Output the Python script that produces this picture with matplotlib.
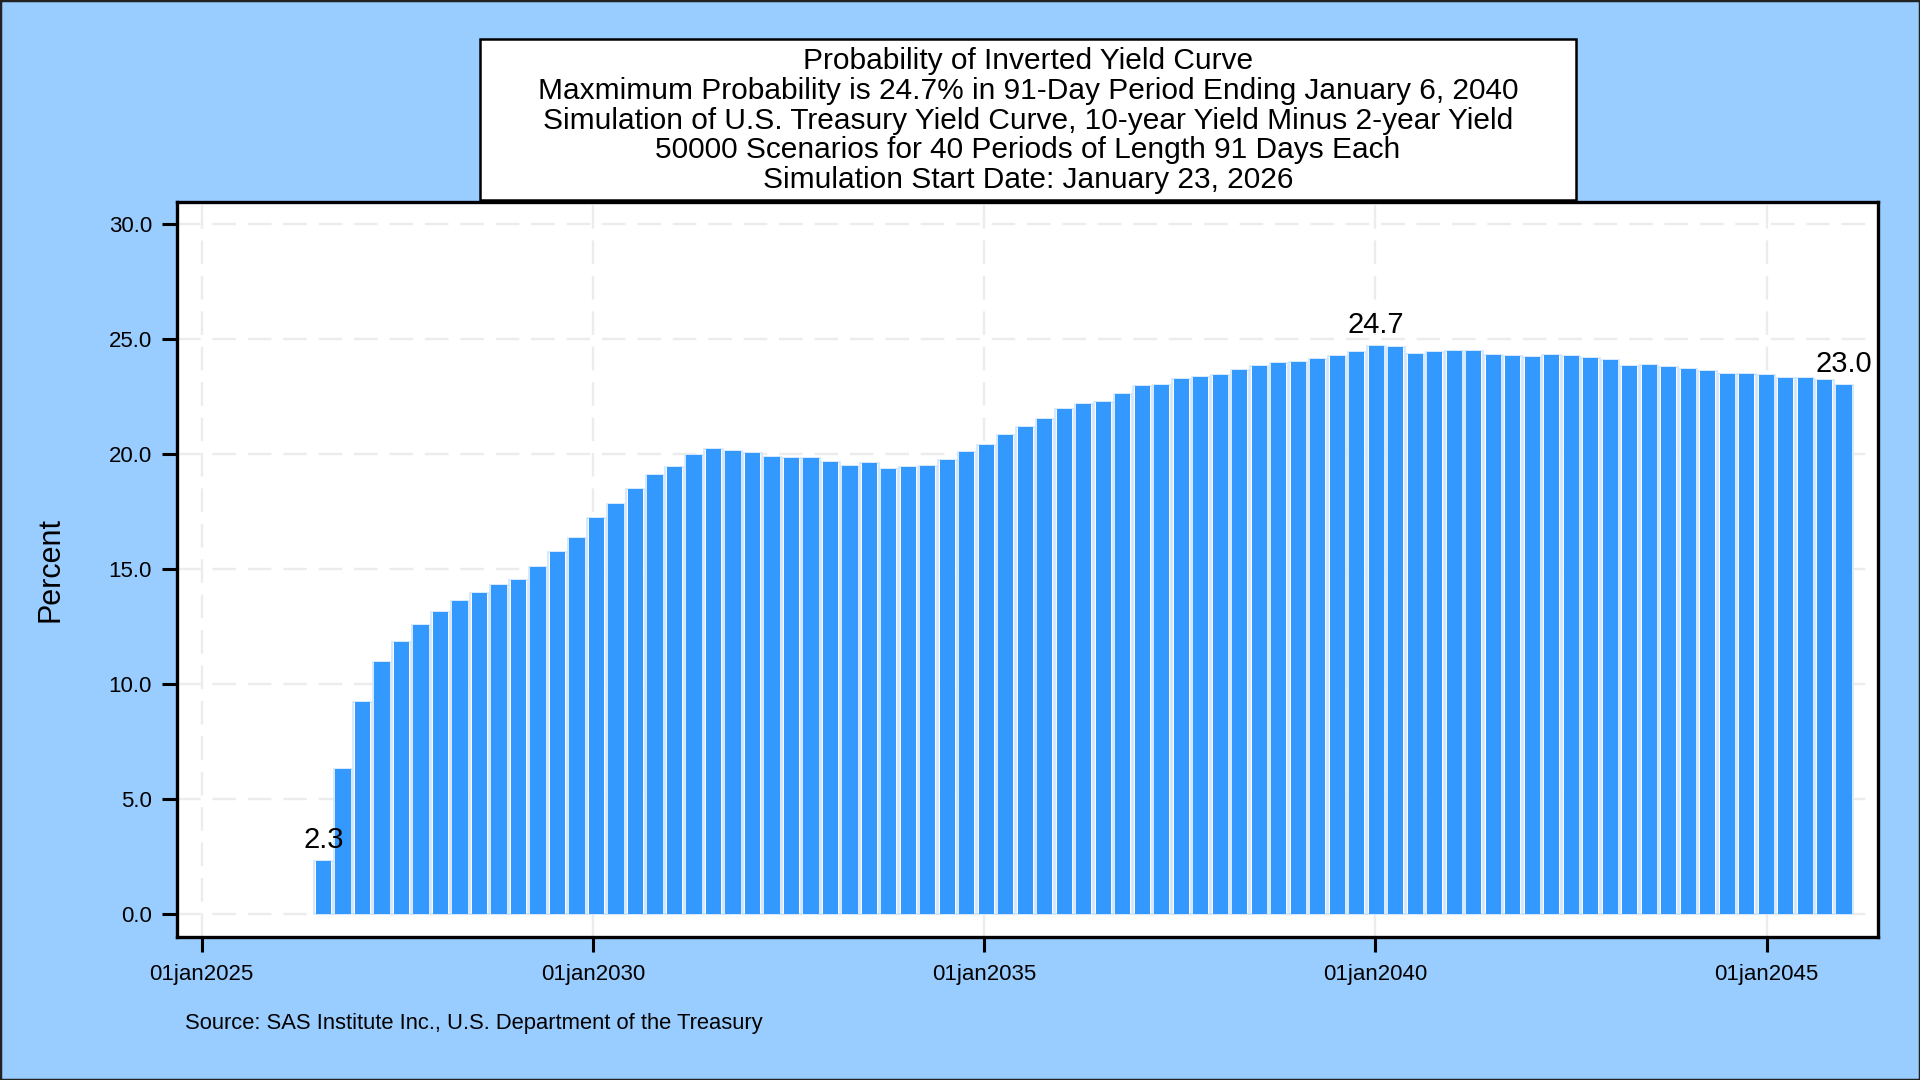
# Probability of inverted yield curve - bar chart recreation
import matplotlib
matplotlib.use("Agg")
import matplotlib.pyplot as plt
import matplotlib.dates as mdates
from matplotlib.patches import Rectangle
import numpy as np
import datetime as dt

plt.rcParams['font.family'] = ['Liberation Sans', 'DejaVu Sans']

# Data: simulation periods of 91 days, bars at period end dates
sim_start = np.datetime64('2026-01-23')
period_days = 91
first_period = 2
probability = [
    2.30, 6.33, 9.24, 10.98, 11.82, 12.57, 13.16, 13.64, 13.95, 14.31,
    14.54, 15.11, 15.76, 16.36, 17.22, 17.86, 18.47, 19.11, 19.44, 19.95,
    20.22, 20.14, 20.06, 19.87, 19.83, 19.83, 19.66, 19.47, 19.63, 19.38,
    19.46, 19.48, 19.77, 20.12, 20.42, 20.83, 21.18, 21.55, 21.98, 22.18,
    22.28, 22.60, 22.95, 23.00, 23.29, 23.35, 23.44, 23.67, 23.86, 23.95,
    24.01, 24.15, 24.28, 24.45, 24.70, 24.66, 24.35, 24.45, 24.51, 24.51,
    24.32, 24.27, 24.21, 24.31, 24.27, 24.18, 24.08, 23.86, 23.87, 23.80,
    23.72, 23.63, 23.51, 23.51, 23.46, 23.31, 23.33, 23.21, 23.00,
]
period_index = np.arange(first_period, first_period + len(probability))
end_dates = sim_start + period_index * np.timedelta64(period_days, 'D')
end_dates = end_dates.astype('datetime64[D]').astype(object)

title_lines = [
    "Probability of Inverted Yield Curve",
    "Maxmimum Probability is 24.7% in 91-Day Period Ending January 6, 2040",
    "Simulation of U.S. Treasury Yield Curve, 10-year Yield Minus 2-year Yield",
    "50000 Scenarios for 40 Periods of Length 91 Days Each",
    "Simulation Start Date: January 23, 2026",
]
x_tick_years = [2025, 2030, 2035, 2040, 2045]
y_ticks = [0, 5, 10, 15, 20, 25, 30]
source_text = "Source: SAS Institute Inc., U.S. Department of the Treasury"

bg = '#99ccff'
bar_color = '#3399ff'

fig = plt.figure(figsize=(19.2, 10.8), dpi=100, facecolor=bg)
ax = fig.add_axes([0.0922, 0.1321, 0.8859, 0.6809])
ax.set_facecolor('white')

# outline layer then fill layer
ax.bar(end_dates, probability, width=86, color='white', edgecolor='#cfe5ff',
       linewidth=1.2, zorder=2)
ax.bar(end_dates, probability, width=71, color=bar_color, edgecolor='none',
       zorder=3)

# labels for first, max and last bar
vals = np.array(probability)
for i in [0, int(np.argmax(vals)), len(vals) - 1]:
    ax.annotate(f"{vals[i]:.1f}", (end_dates[i], vals[i]), xytext=(0, 5),
                textcoords='offset points', ha='center', va='bottom',
                fontsize=21, color='black', zorder=5)

ax.set_xlim(dt.date(2024, 9, 8), dt.date(2046, 6, 5))
ax.set_ylim(-1.0, 30.97)
ax.set_xticks([dt.date(y, 1, 1) for y in x_tick_years])
ax.xaxis.set_major_formatter(mdates.DateFormatter('%d%b%Y'))
ax.set_xticklabels([f"01jan{y}" for y in x_tick_years])
ax.set_yticks(y_ticks)
ax.set_yticklabels([f"{v:.1f}" for v in y_ticks])
ax.tick_params(axis='both', labelsize=16, width=2.2, length=11, color='black')
ax.tick_params(axis='x', pad=8)
ax.tick_params(axis='y', pad=7)

ax.grid(True, color='#ececec', linewidth=1.7, linestyle=(0, (10, 5)), zorder=0)
ax.set_axisbelow(True)
for s in ax.spines.values():
    s.set_linewidth(2.4)
    s.set_color('black')

ax.set_ylabel("Percent", fontsize=22)
ax.yaxis.set_label_coords(-0.0658, 0.5)

# title box
fig.patches.append(Rectangle((480 / 1920, 1 - 200 / 1080), (1576 - 480) / 1920,
                             (200 - 39) / 1080, transform=fig.transFigure,
                             facecolor='white', edgecolor='black', linewidth=1.8,
                             zorder=10))
line_y = [61.0, 91.0, 121.0, 150.5, 180.5]
for txt, yy in zip(title_lines, line_y):
    fig.text(1028 / 1920, 1 - yy / 1080, txt, ha='center', va='center',
             fontsize=21.5, zorder=11)

fig.text(184.6 / 1920, 1 - 1024 / 1080, source_text, ha='left', va='center',
         fontsize=15.8)

# outer border
fig.patches.append(Rectangle((0, 0), 1, 1, transform=fig.transFigure, fill=False,
                             edgecolor='#222222', linewidth=2.5, zorder=20))

fig.savefig("out.png", dpi=100, facecolor=bg)
